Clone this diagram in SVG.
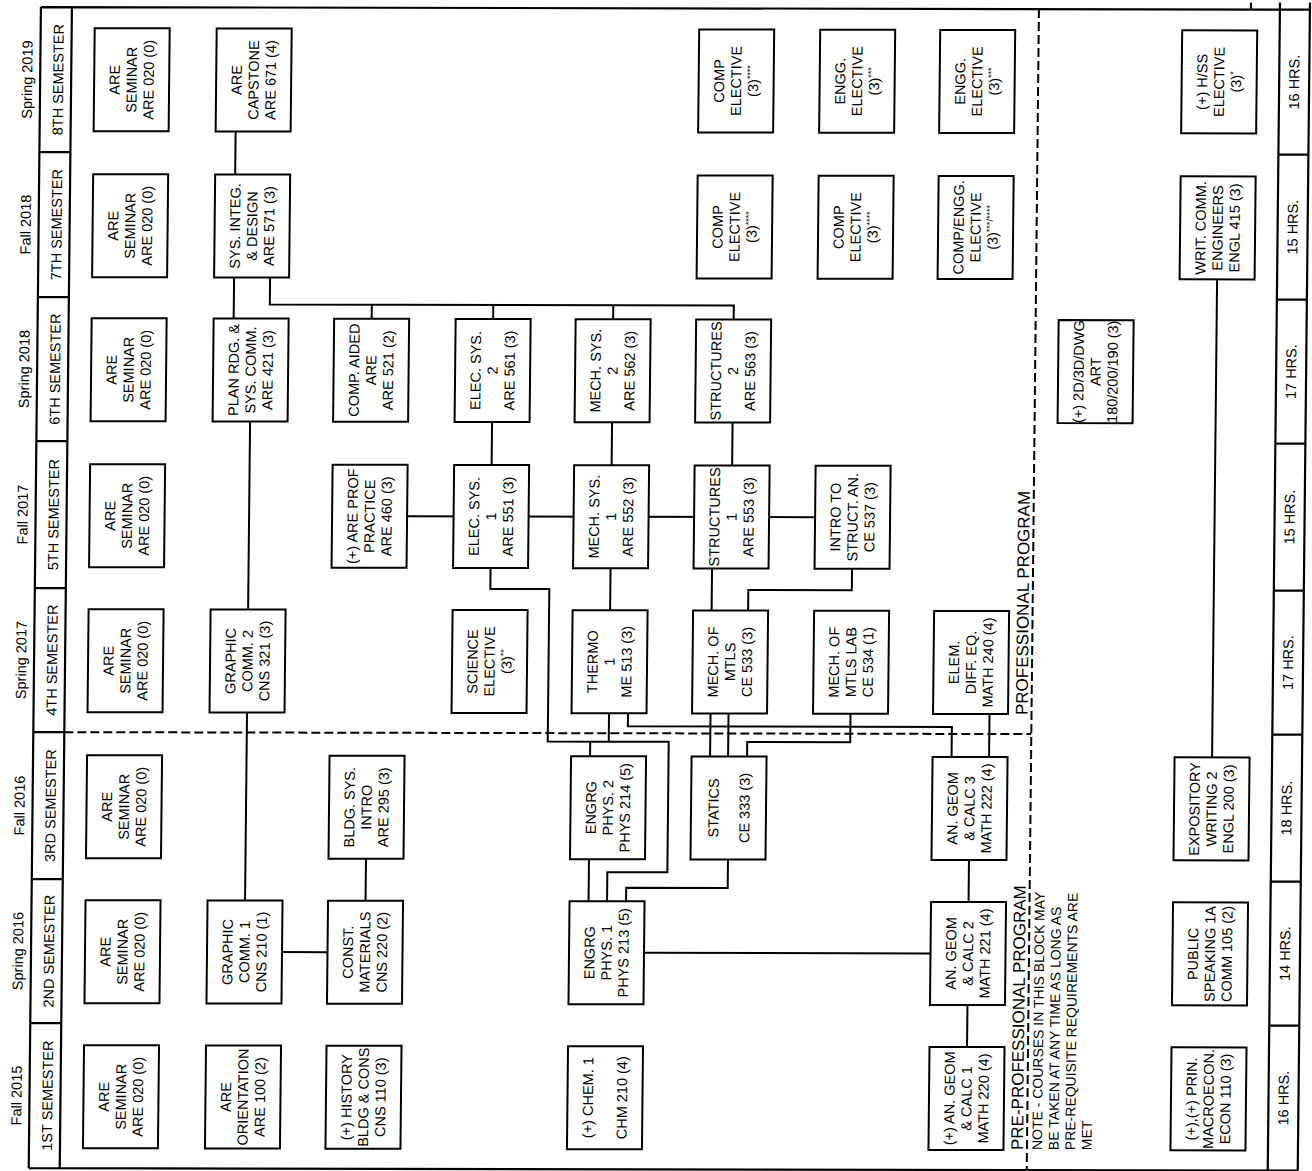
<svg xmlns="http://www.w3.org/2000/svg" width="1312" height="1171" viewBox="0 0 1312 1171">
<style>
.b{fill:#fff;stroke:#000;stroke-width:2}
.t{font-family:"Liberation Sans",Arial,Helvetica,sans-serif;font-size:14.5px;text-anchor:middle;fill:#000}
.s{font-size:9px}
.c{fill:none;stroke:#000;stroke-width:2}
.d{fill:none;stroke:#000;stroke-width:2;stroke-dasharray:9 4}
.f{fill:none;stroke:#000;stroke-width:2.2}
.hd{font-family:"Liberation Sans",Arial,Helvetica,sans-serif;font-size:14.5px;text-anchor:middle;fill:#000}
.lb{font-family:"Liberation Sans",Arial,Helvetica,sans-serif;font-size:17px;fill:#000}
.nt{font-family:"Liberation Sans",Arial,Helvetica,sans-serif;font-size:14px;fill:#000}
</style>
<rect x="0" y="0" width="1312" height="1171" fill="#fff"/>
<g transform="matrix(1 0.002 -0.0105 1 0 0)">
<g id="frame">
<path class="f" d="M41,7 H1310 M41,7 V1168 M72,7 V1168 M41,1168 H1310 M1280,0 V1168 M1310,0 V1168 M1251,0 V7"/>
<path class="f" d="M41,152 H72 M41,297 H72 M41,441 H72 M41,588 H72 M41,732 H72 M41,879 H72 M41,1023 H72"/>
<path class="f" d="M1280,152 H1310 M1280,297 H1310 M1280,441 H1310 M1280,588 H1310 M1280,732 H1310 M1280,879 H1310 M1280,1023 H1310"/>
<path class="d" d="M72,732 H1039"/>
<path class="d" d="M1039,7 V1168"/>
</g>
<g id="semester-labels">
<text class="hd" transform="translate(28 79.5) rotate(-90)" y="5">Spring 2019</text>
<text class="hd" transform="translate(59 79.5) rotate(-90)" y="5">8TH SEMESTER</text>
<text class="hd" transform="translate(28 224.5) rotate(-90)" y="5">Fall 2018</text>
<text class="hd" transform="translate(59 224.5) rotate(-90)" y="5">7TH SEMESTER</text>
<text class="hd" transform="translate(28 369) rotate(-90)" y="5">Spring 2018</text>
<text class="hd" transform="translate(59 369) rotate(-90)" y="5">6TH SEMESTER</text>
<text class="hd" transform="translate(28 514.5) rotate(-90)" y="5">Fall 2017</text>
<text class="hd" transform="translate(59 514.5) rotate(-90)" y="5">5TH SEMESTER</text>
<text class="hd" transform="translate(28 660) rotate(-90)" y="5">Spring 2017</text>
<text class="hd" transform="translate(59 660) rotate(-90)" y="5">4TH SEMESTER</text>
<text class="hd" transform="translate(28 805.5) rotate(-90)" y="5">Fall 2016</text>
<text class="hd" transform="translate(59 805.5) rotate(-90)" y="5">3RD SEMESTER</text>
<text class="hd" transform="translate(28 951) rotate(-90)" y="5">Spring 2016</text>
<text class="hd" transform="translate(59 951) rotate(-90)" y="5">2ND SEMESTER</text>
<text class="hd" transform="translate(28 1095.5) rotate(-90)" y="5">Fall 2015</text>
<text class="hd" transform="translate(59 1095.5) rotate(-90)" y="5">1ST SEMESTER</text>
</g>
<g id="hours">
<text class="hd" transform="translate(1295 79.5) rotate(-90)" y="5">16 HRS.</text>
<text class="hd" transform="translate(1295 224.5) rotate(-90)" y="5">15 HRS.</text>
<text class="hd" transform="translate(1295 369) rotate(-90)" y="5">17 HRS.</text>
<text class="hd" transform="translate(1295 514.5) rotate(-90)" y="5">15 HRS.</text>
<text class="hd" transform="translate(1295 660) rotate(-90)" y="5">17 HRS.</text>
<text class="hd" transform="translate(1295 805.5) rotate(-90)" y="5">18 HRS.</text>
<text class="hd" transform="translate(1295 951) rotate(-90)" y="5">14 HRS.</text>
<text class="hd" transform="translate(1295 1095.5) rotate(-90)" y="5">16 HRS.</text>
</g>
<g id="program-labels">
<text class="lb" transform="translate(1035 713) rotate(-90)">PROFESSIONAL PROGRAM</text>
<text class="lb" transform="translate(1035 1148) rotate(-90)">PRE-PROFESSIONAL PROGRAM</text>
<text class="nt" transform="translate(1044 1148) rotate(-90)"><tspan x="0" y="10">NOTE - COURSES IN THIS BLOCK MAY</tspan><tspan x="0" y="26.5">BE TAKEN AT ANY TIME AS LONG AS</tspan><tspan x="0" y="43">PRE-REQUISITE REQUIREMENTS ARE</tspan><tspan x="0" y="59.5">MET</tspan></text>
</g>
<g id="connectors">
<path class="c" d="M237,131 V174"/>
<path class="c" d="M237,277 V318"/>
<path class="c" d="M273,277 V304 H737 V318 M375,304 V318 M496.5,304 V318 M616.5,304 V318"/>
<path class="c" d="M254.5,421 V609"/>
<path class="c" d="M254.5,712 V900"/>
<path class="c" d="M292,951.5 H337.5"/>
<path class="c" d="M375,858 V900"/>
<path class="c" d="M412.5,515.5 H820.5"/>
<path class="c" d="M496.5,421 V464 M616.5,421 V464 M737,421 V464"/>
<path class="c" d="M496.5,567 V588 H555.5 V740.5 H616.5 M598,740.5 V755"/>
<path class="c" d="M616.5,567 V609"/>
<path class="c" d="M718,567 V609 M718,712 V755 M736,712 V755"/>
<path class="c" d="M858,567 V588.5 H754.5 V609"/>
<path class="c" d="M635.5,712 V725 H959.5 V755"/>
<path class="c" d="M858,712 V740.5 H755 V755"/>
<path class="c" d="M997,712 V755"/>
<path class="c" d="M616.5,712 V740.5 H676.5 V871 H616.5 V900"/>
<path class="c" d="M737,858 V886.5 H635.5 V900"/>
<path class="c" d="M598,858 V900"/>
<path class="c" d="M654,951.5 H940.5"/>
<path class="c" d="M978,1003 V1045"/>
<path class="c" d="M978,858 V900"/>
<path class="c" d="M1220,277 V755"/>
</g>
<!-- 8th semester -->
<g id="s8-seminar"><rect class="b" x="95" y="28" width="75" height="103"/><text class="t" transform="translate(132.5 79.5) rotate(-90)"><tspan x="0" y="-12">ARE</tspan><tspan x="0" y="5">SEMINAR</tspan><tspan x="0" y="22">ARE 020 (0)</tspan></text></g>
<g id="are671"><rect class="b" x="217" y="28" width="75" height="103"/><text class="t" transform="translate(254.5 79.5) rotate(-90)"><tspan x="0" y="-12">ARE</tspan><tspan x="0" y="5">CAPSTONE</tspan><tspan x="0" y="22">ARE 671 (4)</tspan></text></g>
<g id="s8-comp"><rect class="b" x="699.5" y="28" width="75" height="103"/><text class="t" transform="translate(737 79.5) rotate(-90)"><tspan x="0" y="-12">COMP</tspan><tspan x="0" y="5">ELECTIVE</tspan><tspan x="0" y="22">(3)<tspan class="s" dy="-5">****</tspan></tspan></text></g>
<g id="s8-engg1"><rect class="b" x="820.5" y="28" width="75" height="103"/><text class="t" transform="translate(858 79.5) rotate(-90)"><tspan x="0" y="-12">ENGG.</tspan><tspan x="0" y="5">ELECTIVE</tspan><tspan x="0" y="22">(3)<tspan class="s" dy="-5">***</tspan></tspan></text></g>
<g id="s8-engg2"><rect class="b" x="940.5" y="28" width="75" height="103"/><text class="t" transform="translate(978 79.5) rotate(-90)"><tspan x="0" y="-12">ENGG.</tspan><tspan x="0" y="5">ELECTIVE</tspan><tspan x="0" y="22">(3)<tspan class="s" dy="-5">***</tspan></tspan></text></g>
<g id="s8-hss"><rect class="b" x="1182.5" y="28" width="75" height="103"/><text class="t" transform="translate(1220 79.5) rotate(-90)"><tspan x="0" y="-12">(+) H/SS</tspan><tspan x="0" y="5">ELECTIVE</tspan><tspan x="0" y="22">(3)<tspan class="s" dy="-5">*</tspan></tspan></text></g>
<!-- 7th semester -->
<g id="s7-seminar"><rect class="b" x="95" y="174" width="75" height="103"/><text class="t" transform="translate(132.5 225.5) rotate(-90)"><tspan x="0" y="-12">ARE</tspan><tspan x="0" y="5">SEMINAR</tspan><tspan x="0" y="22">ARE 020 (0)</tspan></text></g>
<g id="are571"><rect class="b" x="217" y="174" width="75" height="103"/><text class="t" transform="translate(254.5 225.5) rotate(-90)"><tspan x="0" y="-12">SYS. INTEG.</tspan><tspan x="0" y="5">&amp; DESIGN</tspan><tspan x="0" y="22">ARE 571 (3)</tspan></text></g>
<g id="s7-comp1"><rect class="b" x="699.5" y="174" width="75" height="103"/><text class="t" transform="translate(737 225.5) rotate(-90)"><tspan x="0" y="-12">COMP</tspan><tspan x="0" y="5">ELECTIVE</tspan><tspan x="0" y="22">(3)<tspan class="s" dy="-5">****</tspan></tspan></text></g>
<g id="s7-comp2"><rect class="b" x="820.5" y="174" width="75" height="103"/><text class="t" transform="translate(858 225.5) rotate(-90)"><tspan x="0" y="-12">COMP</tspan><tspan x="0" y="5">ELECTIVE</tspan><tspan x="0" y="22">(3)<tspan class="s" dy="-5">****</tspan></tspan></text></g>
<g id="s7-compengg"><rect class="b" x="940.5" y="174" width="75" height="103"/><text class="t" transform="translate(978 225.5) rotate(-90)"><tspan x="0" y="-12">COMP/ENGG.</tspan><tspan x="0" y="5">ELECTIVE</tspan><tspan x="0" y="22">(3)<tspan class="s" dy="-5">***/****</tspan></tspan></text></g>
<g id="engl415"><rect class="b" x="1182.5" y="174" width="75" height="103"/><text class="t" transform="translate(1220 225.5) rotate(-90)"><tspan x="0" y="-12">WRIT. COMM.</tspan><tspan x="0" y="5">ENGINEERS</tspan><tspan x="0" y="22">ENGL 415 (3)</tspan></text></g>
<!-- 6th semester -->
<g id="s6-seminar"><rect class="b" x="95" y="318" width="75" height="103"/><text class="t" transform="translate(132.5 369.5) rotate(-90)"><tspan x="0" y="-12">ARE</tspan><tspan x="0" y="5">SEMINAR</tspan><tspan x="0" y="22">ARE 020 (0)</tspan></text></g>
<g id="are421"><rect class="b" x="217" y="318" width="75" height="103"/><text class="t" transform="translate(254.5 369.5) rotate(-90)"><tspan x="0" y="-12">PLAN RDG. &amp;</tspan><tspan x="0" y="5">SYS. COMM.</tspan><tspan x="0" y="22">ARE 421 (3)</tspan></text></g>
<g id="are521"><rect class="b" x="337.5" y="318" width="75" height="103"/><text class="t" transform="translate(375 369.5) rotate(-90)"><tspan x="0" y="-12">COMP. AIDED</tspan><tspan x="0" y="5">ARE</tspan><tspan x="0" y="22">ARE 521 (2)</tspan></text></g>
<g id="are561"><rect class="b" x="459" y="318" width="75" height="103"/><text class="t" transform="translate(496.5 369.5) rotate(-90)"><tspan x="0" y="-12">ELEC. SYS.</tspan><tspan x="0" y="5">2</tspan><tspan x="0" y="22">ARE 561 (3)</tspan></text></g>
<g id="are562"><rect class="b" x="579" y="318" width="75" height="103"/><text class="t" transform="translate(616.5 369.5) rotate(-90)"><tspan x="0" y="-12">MECH. SYS.</tspan><tspan x="0" y="5">2</tspan><tspan x="0" y="22">ARE 562 (3)</tspan></text></g>
<g id="are563"><rect class="b" x="699.5" y="318" width="75" height="103"/><text class="t" transform="translate(737 369.5) rotate(-90)"><tspan x="0" y="-12">STRUCTURES</tspan><tspan x="0" y="5">2</tspan><tspan x="0" y="22">ARE 563 (3)</tspan></text></g>
<g id="art180"><rect class="b" x="1062" y="318" width="75" height="103"/><text class="t" transform="translate(1099.5 369.5) rotate(-90)"><tspan x="0" y="-12">(+) 2D/3D/DWG</tspan><tspan x="0" y="5">ART</tspan><tspan x="0" y="22">180/200/190 (3)</tspan></text></g>
<!-- 5th semester -->
<g id="s5-seminar"><rect class="b" x="95" y="464" width="75" height="103"/><text class="t" transform="translate(132.5 515.5) rotate(-90)"><tspan x="0" y="-12">ARE</tspan><tspan x="0" y="5">SEMINAR</tspan><tspan x="0" y="22">ARE 020 (0)</tspan></text></g>
<g id="are460"><rect class="b" x="337.5" y="464" width="75" height="103"/><text class="t" transform="translate(375 515.5) rotate(-90)"><tspan x="0" y="-12">(+) ARE PROF</tspan><tspan x="0" y="5">PRACTICE</tspan><tspan x="0" y="22">ARE 460 (3)</tspan></text></g>
<g id="are551"><rect class="b" x="459" y="464" width="75" height="103"/><text class="t" transform="translate(496.5 515.5) rotate(-90)"><tspan x="0" y="-12">ELEC. SYS.</tspan><tspan x="0" y="5">1</tspan><tspan x="0" y="22">ARE 551 (3)</tspan></text></g>
<g id="are552"><rect class="b" x="579" y="464" width="75" height="103"/><text class="t" transform="translate(616.5 515.5) rotate(-90)"><tspan x="0" y="-12">MECH. SYS.</tspan><tspan x="0" y="5">1</tspan><tspan x="0" y="22">ARE 552 (3)</tspan></text></g>
<g id="are553"><rect class="b" x="699.5" y="464" width="75" height="103"/><text class="t" transform="translate(737 515.5) rotate(-90)"><tspan x="0" y="-12">STRUCTURES</tspan><tspan x="0" y="5">1</tspan><tspan x="0" y="22">ARE 553 (3)</tspan></text></g>
<g id="ce537"><rect class="b" x="820.5" y="464" width="75" height="103"/><text class="t" transform="translate(858 515.5) rotate(-90)"><tspan x="0" y="-12">INTRO TO</tspan><tspan x="0" y="5">STRUCT. AN.</tspan><tspan x="0" y="22">CE 537 (3)</tspan></text></g>
<!-- 4th semester -->
<g id="s4-seminar"><rect class="b" x="95" y="609" width="75" height="103"/><text class="t" transform="translate(132.5 660.5) rotate(-90)"><tspan x="0" y="-12">ARE</tspan><tspan x="0" y="5">SEMINAR</tspan><tspan x="0" y="22">ARE 020 (0)</tspan></text></g>
<g id="cns321"><rect class="b" x="217" y="609" width="75" height="103"/><text class="t" transform="translate(254.5 660.5) rotate(-90)"><tspan x="0" y="-12">GRAPHIC</tspan><tspan x="0" y="5">COMM. 2</tspan><tspan x="0" y="22">CNS 321 (3)</tspan></text></g>
<g id="sci-elective"><rect class="b" x="459" y="609" width="75" height="103"/><text class="t" transform="translate(496.5 660.5) rotate(-90)"><tspan x="0" y="-12">SCIENCE</tspan><tspan x="0" y="5">ELECTIVE</tspan><tspan x="0" y="22">(3)<tspan class="s" dy="-5">**</tspan></tspan></text></g>
<g id="me513"><rect class="b" x="579" y="609" width="75" height="103"/><text class="t" transform="translate(616.5 660.5) rotate(-90)"><tspan x="0" y="-12">THERMO</tspan><tspan x="0" y="5">1</tspan><tspan x="0" y="22">ME 513 (3)</tspan></text></g>
<g id="ce533"><rect class="b" x="699.5" y="609" width="75" height="103"/><text class="t" transform="translate(737 660.5) rotate(-90)"><tspan x="0" y="-12">MECH. OF</tspan><tspan x="0" y="5">MTLS</tspan><tspan x="0" y="22">CE 533 (3)</tspan></text></g>
<g id="ce534"><rect class="b" x="820.5" y="609" width="75" height="103"/><text class="t" transform="translate(858 660.5) rotate(-90)"><tspan x="0" y="-12">MECH. OF</tspan><tspan x="0" y="5">MTLS LAB</tspan><tspan x="0" y="22">CE 534 (1)</tspan></text></g>
<g id="math240"><rect class="b" x="940.5" y="609" width="75" height="103"/><text class="t" transform="translate(978 660.5) rotate(-90)"><tspan x="0" y="-12">ELEM.</tspan><tspan x="0" y="5">DIFF. EQ.</tspan><tspan x="0" y="22">MATH 240 (4)</tspan></text></g>
<!-- 3rd semester -->
<g id="s3-seminar"><rect class="b" x="95" y="755" width="75" height="103"/><text class="t" transform="translate(132.5 806.5) rotate(-90)"><tspan x="0" y="-12">ARE</tspan><tspan x="0" y="5">SEMINAR</tspan><tspan x="0" y="22">ARE 020 (0)</tspan></text></g>
<g id="are295"><rect class="b" x="337.5" y="755" width="75" height="103"/><text class="t" transform="translate(375 806.5) rotate(-90)"><tspan x="0" y="-12">BLDG. SYS.</tspan><tspan x="0" y="5">INTRO</tspan><tspan x="0" y="22">ARE 295 (3)</tspan></text></g>
<g id="phys214"><rect class="b" x="579" y="755" width="75" height="103"/><text class="t" transform="translate(616.5 806.5) rotate(-90)"><tspan x="0" y="-12">ENGRG</tspan><tspan x="0" y="5">PHYS. 2</tspan><tspan x="0" y="22">PHYS 214 (5)</tspan></text></g>
<g id="ce333"><rect class="b" x="699.5" y="755" width="75" height="103"/><text class="t" transform="translate(737 806.5) rotate(-90)"><tspan x="0" y="-10">STATICS</tspan><tspan x="0" y="21">CE 333 (3)</tspan></text></g>
<g id="math222"><rect class="b" x="940.5" y="755" width="75" height="103"/><text class="t" transform="translate(978 806.5) rotate(-90)"><tspan x="0" y="-12">AN. GEOM</tspan><tspan x="0" y="5">&amp; CALC 3</tspan><tspan x="0" y="22">MATH 222 (4)</tspan></text></g>
<g id="engl200"><rect class="b" x="1182.5" y="755" width="75" height="103"/><text class="t" transform="translate(1220 806.5) rotate(-90)"><tspan x="0" y="-12">EXPOSITORY</tspan><tspan x="0" y="5">WRITING 2</tspan><tspan x="0" y="22">ENGL 200 (3)</tspan></text></g>
<!-- 2nd semester -->
<g id="s2-seminar"><rect class="b" x="95" y="900" width="75" height="103"/><text class="t" transform="translate(132.5 951.5) rotate(-90)"><tspan x="0" y="-12">ARE</tspan><tspan x="0" y="5">SEMINAR</tspan><tspan x="0" y="22">ARE 020 (0)</tspan></text></g>
<g id="cns210"><rect class="b" x="217" y="900" width="75" height="103"/><text class="t" transform="translate(254.5 951.5) rotate(-90)"><tspan x="0" y="-12">GRAPHIC</tspan><tspan x="0" y="5">COMM. 1</tspan><tspan x="0" y="22">CNS 210 (1)</tspan></text></g>
<g id="cns220"><rect class="b" x="337.5" y="900" width="75" height="103"/><text class="t" transform="translate(375 951.5) rotate(-90)"><tspan x="0" y="-12">CONST.</tspan><tspan x="0" y="5">MATERIALS</tspan><tspan x="0" y="22">CNS 220 (2)</tspan></text></g>
<g id="phys213"><rect class="b" x="579" y="900" width="75" height="103"/><text class="t" transform="translate(616.5 951.5) rotate(-90)"><tspan x="0" y="-12">ENGRG</tspan><tspan x="0" y="5">PHYS. 1</tspan><tspan x="0" y="22">PHYS 213 (5)</tspan></text></g>
<g id="math221"><rect class="b" x="940.5" y="900" width="75" height="103"/><text class="t" transform="translate(978 951.5) rotate(-90)"><tspan x="0" y="-12">AN. GEOM</tspan><tspan x="0" y="5">&amp; CALC 2</tspan><tspan x="0" y="22">MATH 221 (4)</tspan></text></g>
<g id="comm105"><rect class="b" x="1182.5" y="900" width="75" height="103"/><text class="t" transform="translate(1220 951.5) rotate(-90)"><tspan x="0" y="-12">PUBLIC</tspan><tspan x="0" y="5">SPEAKING 1A</tspan><tspan x="0" y="22">COMM 105 (2)</tspan></text></g>
<!-- 1st semester -->
<g id="s1-seminar"><rect class="b" x="95" y="1045" width="75" height="103"/><text class="t" transform="translate(132.5 1096.5) rotate(-90)"><tspan x="0" y="-12">ARE</tspan><tspan x="0" y="5">SEMINAR</tspan><tspan x="0" y="22">ARE 020 (0)</tspan></text></g>
<g id="are100"><rect class="b" x="217" y="1045" width="75" height="103"/><text class="t" transform="translate(254.5 1096.5) rotate(-90)"><tspan x="0" y="-12">ARE</tspan><tspan x="0" y="5">ORIENTATION</tspan><tspan x="0" y="22">ARE 100 (2)</tspan></text></g>
<g id="cns110"><rect class="b" x="337.5" y="1045" width="75" height="103"/><text class="t" transform="translate(375 1096.5) rotate(-90)"><tspan x="0" y="-12">(+) HISTORY</tspan><tspan x="0" y="5">BLDG &amp; CONS</tspan><tspan x="0" y="22">CNS 110 (3)</tspan></text></g>
<g id="chm210"><rect class="b" x="579" y="1045" width="75" height="103"/><text class="t" transform="translate(616.5 1096.5) rotate(-90)"><tspan x="0" y="-12">(+) CHEM. 1</tspan><tspan x="0" y="22">CHM 210 (4)</tspan></text></g>
<g id="math220"><rect class="b" x="940.5" y="1045" width="75" height="103"/><text class="t" transform="translate(978 1096.5) rotate(-90)"><tspan x="0" y="-12">(+) AN. GEOM</tspan><tspan x="0" y="5">&amp; CALC 1</tspan><tspan x="0" y="22">MATH 220 (4)</tspan></text></g>
<g id="econ110"><rect class="b" x="1182.5" y="1045" width="75" height="103"/><text class="t" transform="translate(1220 1096.5) rotate(-90)"><tspan x="0" y="-12">(+),(+) PRIN.</tspan><tspan x="0" y="5">MACROECON.</tspan><tspan x="0" y="22">ECON 110 (3)</tspan></text></g>
</g>
</svg>
